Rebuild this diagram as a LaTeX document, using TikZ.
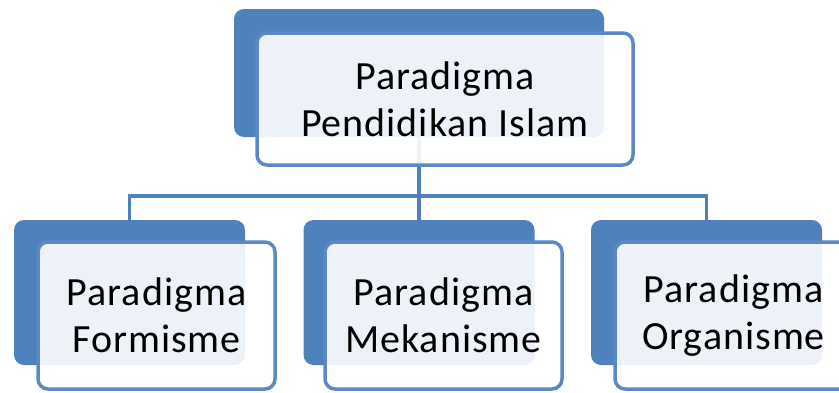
\documentclass[tikz,border=0pt]{standalone}
\usepackage{fontspec}
\setmainfont[LetterSpace=2.5]{Carlito}
\definecolor{ofblue}{HTML}{4F81BD}
\definecolor{frontline}{HTML}{5A8AC6}
\begin{document}
\begin{tikzpicture}[x=1pt,y=1pt,
  backbox/.style={rectangle,rounded corners=10pt,fill=ofblue,draw=none,inner sep=0pt},
  frontbox/.style={rectangle,rounded corners=10pt,draw=frontline,line width=3.5pt,fill=white,fill opacity=0.9,text opacity=1,inner sep=0pt,align=center,font=\fontsize{40}{47}\selectfont},
  conn/.style={draw=ofblue,line width=3.5pt}]
\useasboundingbox (0,0) rectangle (839,-392);
% back boxes
\node[backbox,minimum width=370pt,minimum height=128pt] (tb) at (419,-73) {};
\node[backbox,minimum width=231pt,minimum height=145pt] (b1) at (129.5,-292.5) {};
\node[backbox,minimum width=231pt,minimum height=145pt] (b2) at (419,-292.5) {};
\node[backbox,minimum width=231pt,minimum height=145pt] (b3) at (706.5,-292.5) {};
% connectors
\coordinate (j) at (419,-196);
\draw[conn] (tb.south) -- (j);
\draw[conn] (b1.north) |- (j) -| (b3.north);
\draw[conn] (j) -- (b2.north);
% front boxes
\node[frontbox,minimum width=376pt,minimum height=132pt] (tf) at (445,-99) {Paradigma\\Pendidikan Islam};
\node[frontbox,minimum width=237pt,minimum height=147pt] (f1) at (156.5,-315.5) {Paradigma\\Formisme};
\node[frontbox,minimum width=237pt,minimum height=147pt] (f2) at (443.5,-315.5) {Paradigma\\Mekanisme};
\node[frontbox,minimum width=237pt,minimum height=147pt] (f3) at (733.5,-315.5) {Paradigma\\Organisme};
\end{tikzpicture}
\end{document}
